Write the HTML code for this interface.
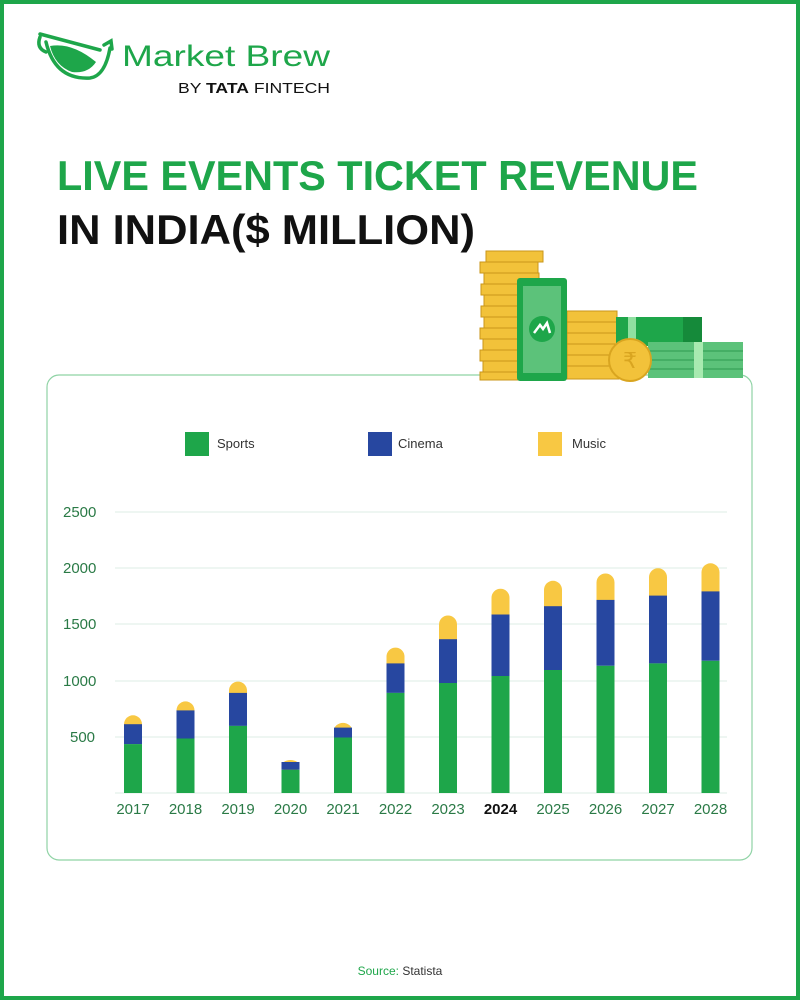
<!DOCTYPE html>
<html><head><meta charset="utf-8"><style>
html,body{margin:0;padding:0;background:#fff}
svg{display:block}
</style></head><body>
<svg width="800" height="1000" viewBox="0 0 800 1000" xmlns="http://www.w3.org/2000/svg" font-family="Liberation Sans, sans-serif">
<rect x="2" y="2" width="796" height="996" fill="#fff" stroke="#1ea64a" stroke-width="4"/>
<!-- logo -->
<g fill="none" stroke="#1ea64a" stroke-width="3.5" stroke-linecap="round">
<path d="M40 37 Q36 48 46 52"/>
<path d="M40 34 L100 50"/>
<path d="M46 42 Q55 80 90 78 Q105 76 110 48"/>
<path d="M104 45 L111 41 L112 49"/>
</g>
<path d="M50 46 Q72 42 96 62 Q88 74 72 72 Q55 66 50 46Z" fill="#1ea64a"/>
<text x="122" y="66" font-size="30" fill="#1ea64a" textLength="208" lengthAdjust="spacingAndGlyphs">Market Brew</text>
<text x="178" y="93" font-size="15" fill="#111" textLength="152" lengthAdjust="spacingAndGlyphs">BY <tspan font-weight="bold">TATA</tspan> FINTECH</text>
<!-- title -->
<text x="57" y="190" font-size="42" font-weight="bold" fill="#1ea64a" textLength="641" lengthAdjust="spacingAndGlyphs">LIVE EVENTS TICKET REVENUE</text>
<text x="57" y="244" font-size="42" font-weight="bold" fill="#111" textLength="418" lengthAdjust="spacingAndGlyphs">IN INDIA($ MILLION)</text>
<!-- card -->
<rect x="47" y="375" width="705" height="485" rx="12" fill="#fff" stroke="#8fd3a5" stroke-width="1.2"/>
<!-- money -->
<g stroke="#c9961a" stroke-width="1">
<rect x="486" y="251" width="57" height="11" fill="#f2c23a"/>
<rect x="480" y="262" width="58" height="11" fill="#f2c23a"/>
<rect x="484" y="273" width="55" height="11" fill="#f2c23a"/>
<rect x="481" y="284" width="58" height="11" fill="#f2c23a"/>
<rect x="484" y="295" width="55" height="11" fill="#f2c23a"/>
<rect x="481" y="306" width="58" height="11" fill="#f2c23a"/>
<rect x="484" y="317" width="55" height="11" fill="#f2c23a"/>
<rect x="480" y="328" width="58" height="11" fill="#f2c23a"/>
<rect x="483" y="339" width="56" height="11" fill="#f2c23a"/>
<rect x="480" y="350" width="58" height="11" fill="#f2c23a"/>
<rect x="483" y="361" width="56" height="11" fill="#f2c23a"/>
<rect x="480" y="372" width="58" height="8" fill="#f2c23a"/>
<rect x="567" y="311" width="50" height="11" fill="#f2c23a"/>
<rect x="567" y="322" width="52" height="11" fill="#f2c23a"/>
<rect x="567" y="333" width="50" height="11" fill="#f2c23a"/>
<rect x="567" y="344" width="52" height="11" fill="#f2c23a"/>
<rect x="567" y="355" width="50" height="11" fill="#f2c23a"/>
<rect x="567" y="366" width="52" height="13" fill="#f2c23a"/>
</g>
<rect x="616" y="317" width="86" height="29" fill="#1ea64a"/>
<rect x="683" y="317" width="19" height="29" fill="#158a3a"/>
<rect x="628" y="317" width="8" height="29" fill="#8fe0a0"/>
<rect x="648" y="342" width="95" height="36" fill="#5cc27a"/>
<line x1="648" y1="351" x2="743" y2="351" stroke="#2e9a50"/><line x1="648" y1="360" x2="743" y2="360" stroke="#2e9a50"/><line x1="648" y1="369" x2="743" y2="369" stroke="#2e9a50"/>
<rect x="694" y="342" width="9" height="36" fill="#a8eab0"/>
<circle cx="630" cy="360" r="21" fill="#f2c23a" stroke="#d9a520" stroke-width="2"/>
<text x="630" y="368" font-size="22" text-anchor="middle" fill="#d9a520" font-family="DejaVu Sans, sans-serif">₹</text>
<rect x="517" y="278" width="50" height="103" rx="3" fill="#1ea64a"/>
<rect x="523" y="286" width="38" height="87" fill="#5cc27a"/>
<circle cx="542" cy="329" r="13" fill="#1ea64a"/>
<path d="M534 333 L540 325 L543 329 L547 323 L550 333" fill="none" stroke="#fff" stroke-width="2.5"/>
<!-- legend -->
<rect x="185" y="432" width="24" height="24" fill="#1ea64a"/>
<text x="217" y="448" font-size="13" fill="#333">Sports</text>
<rect x="368" y="432" width="24" height="24" fill="#2747a0"/>
<text x="398" y="448" font-size="13" fill="#333">Cinema</text>
<rect x="538" y="432" width="24" height="24" fill="#f8c843"/>
<text x="572" y="448" font-size="13" fill="#333">Music</text>
<!-- grid -->
<g stroke="#dceee4" stroke-width="1">
<line x1="115" y1="512" x2="727" y2="512"/>
<line x1="115" y1="568" x2="727" y2="568"/>
<line x1="115" y1="624" x2="727" y2="624"/>
<line x1="115" y1="681" x2="727" y2="681"/>
<line x1="115" y1="737" x2="727" y2="737"/>
<line x1="115" y1="793" x2="727" y2="793"/>
</g>
<g font-size="15" fill="#2a7a46">
<text x="63" y="517">2500</text>
<text x="63" y="573">2000</text>
<text x="63" y="629">1500</text>
<text x="63" y="686">1000</text>
<text x="70" y="742">500</text>
</g>
<!-- bars -->
<g fill="#f8c843">
<rect x="124" y="715.3" width="18" height="19" rx="9"/>
<rect x="176.5" y="701.4" width="18" height="19" rx="9"/>
<rect x="229" y="681.6" width="18" height="21" rx="9"/>
<rect x="281.5" y="760" width="18" height="12" rx="9"/>
<rect x="334" y="722.9" width="18" height="15" rx="9"/>
<rect x="386.5" y="647.6" width="18" height="26" rx="9"/>
<rect x="439" y="615.5" width="18" height="34" rx="9"/>
<rect x="491.5" y="588.7" width="18" height="36" rx="9"/>
<rect x="544" y="580.8" width="18" height="36" rx="9"/>
<rect x="596.5" y="573.5" width="18" height="36" rx="9"/>
<rect x="649" y="568.2" width="18" height="37" rx="9"/>
<rect x="701.5" y="563.3" width="18" height="38" rx="9"/>
</g>
<g fill="#2747a0">
<rect x="124" y="724.2" width="18" height="20"/>
<rect x="176.5" y="710.4" width="18" height="28.1"/>
<rect x="229" y="692.9" width="18" height="33"/>
<rect x="281.5" y="762" width="18" height="7.8"/>
<rect x="334" y="727.6" width="18" height="9.9"/>
<rect x="386.5" y="663.4" width="18" height="29.5"/>
<rect x="439" y="639.2" width="18" height="43.8"/>
<rect x="491.5" y="614.5" width="18" height="61.5"/>
<rect x="544" y="606.2" width="18" height="63.8"/>
<rect x="596.5" y="599.9" width="18" height="65.9"/>
<rect x="649" y="595.6" width="18" height="67.8"/>
<rect x="701.5" y="591.4" width="18" height="69.4"/>
</g>
<g fill="#1ea64a">
<rect x="124" y="744.1" width="18" height="48.9"/>
<rect x="176.5" y="738.5" width="18" height="54.5"/>
<rect x="229" y="725.9" width="18" height="67.1"/>
<rect x="281.5" y="769.8" width="18" height="23.2"/>
<rect x="334" y="737.5" width="18" height="55.5"/>
<rect x="386.5" y="692.9" width="18" height="100.1"/>
<rect x="439" y="683" width="18" height="110"/>
<rect x="491.5" y="676" width="18" height="117"/>
<rect x="544" y="670" width="18" height="123"/>
<rect x="596.5" y="665.8" width="18" height="127.2"/>
<rect x="649" y="663.4" width="18" height="129.6"/>
<rect x="701.5" y="660.8" width="18" height="132.2"/>
</g>
<g font-size="15" fill="#2a7a46" text-anchor="middle">
<text x="133" y="814">2017</text>
<text x="185.5" y="814">2018</text>
<text x="238" y="814">2019</text>
<text x="290.5" y="814">2020</text>
<text x="343" y="814">2021</text>
<text x="395.5" y="814">2022</text>
<text x="448" y="814">2023</text>
<text x="500.5" y="814" font-weight="bold" fill="#111">2024</text>
<text x="553" y="814">2025</text>
<text x="605.5" y="814">2026</text>
<text x="658" y="814">2027</text>
<text x="710.5" y="814">2028</text>
</g>
<text x="400" y="975" font-size="12" text-anchor="middle" fill="#1ea64a">Source: <tspan fill="#333">Statista</tspan></text>
</svg>
</body></html>
